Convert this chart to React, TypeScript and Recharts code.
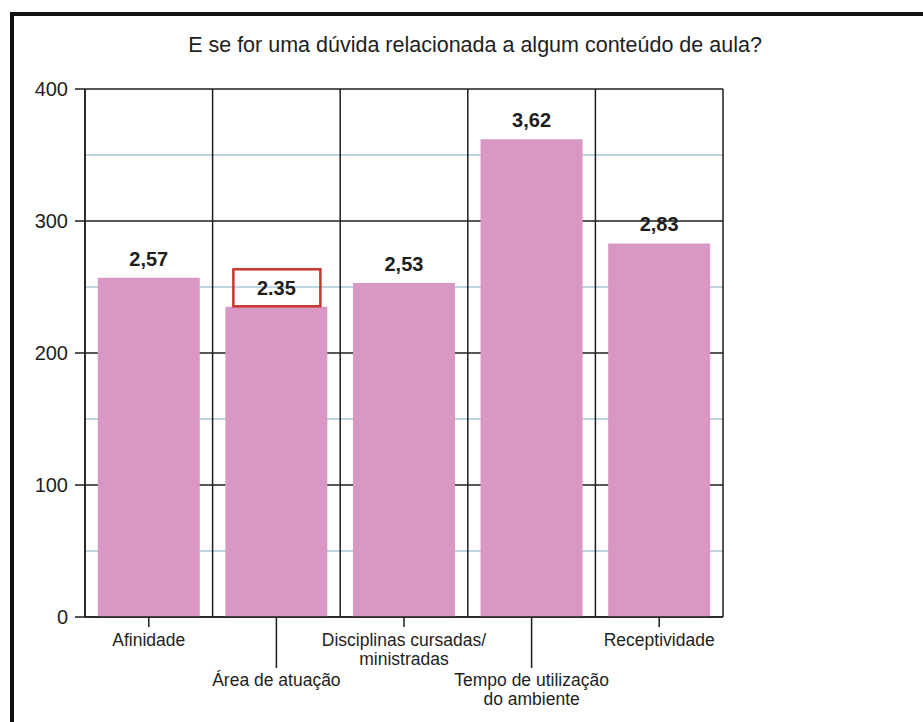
import { BarChart, Bar, XAxis, YAxis, CartesianGrid, LabelList } from 'recharts';

// one category per bar; "\n" marks where the axis label wraps
const categories = [
  'Afinidade',
  'Área de atuação',
  'Disciplinas cursadas/\nministradas',
  'Tempo de utilização\ndo ambiente',
  'Receptividade',
];
const scores = [2.57, 2.35, 2.53, 3.62, 2.83];
const scoreLabels = ['2,57', '2.35', '2,53', '3,62', '2,83'];
const highlighted = 'Área de atuação';

const yTicks = [0, 1, 2, 3, 4];
const yTickLabels = ['0', '100', '200', '300', '400'];
const minorLines = [0.5, 1.5, 2.5, 3.5];

const title = 'E se for uma dúvida relacionada a algum conteúdo de aula?';

const data = categories.map((name, i) => ({ name, score: scores[i], label: scoreLabels[i] }));

const FONT = '"Liberation Sans", Arial, sans-serif';
const INK = '#1e1e1e';

const CategoryTick = (props: any) => {
  const { x, y, payload, index } = props;
  const lower = index % 2 === 1;
  const lines = String(payload.value).split('\n');
  const tickLen = lower ? 51 : 10;
  const firstY = y + (lower ? 63 : 23);
  return (
    <g>
      <line x1={x} x2={x} y1={y} y2={y + tickLen} stroke={INK} strokeWidth={1.5} />
      {lines.map((ln, i) => (
        <text
          key={i}
          x={x}
          y={firstY + i * 19}
          textAnchor="middle"
          dominantBaseline="central"
          fontSize={17.5}
          fontFamily={FONT}
          fill={INK}
        >
          {ln}
        </text>
      ))}
    </g>
  );
};

const ValueLabel = (props: any) => {
  const { x, y, width, index } = props;
  const cx = x + width / 2;
  const cy = y - 19;
  const boxed = categories[index] === highlighted;
  return (
    <g>
      {boxed && (
        <rect x={cx - 43} y={cy - 18.5} width={87} height={37} fill="none" stroke="#c8372d" strokeWidth={2.5} />
      )}
      <text
        x={cx}
        y={cy}
        textAnchor="middle"
        dominantBaseline="central"
        fontSize={20}
        fontWeight="bold"
        fontFamily={FONT}
        fill={INK}
      >
        {scoreLabels[index]}
      </text>
    </g>
  );
};

// vertical rules sit on the category boundaries, not on the tick centres
const boundaryLines = ({ offset }: any) =>
  Array.from({ length: categories.length + 1 }, (_, i) => offset.left + (offset.width * i) / categories.length);

export default function App() {
  return (
    <div style={{ position: 'absolute', left: 0, top: 0, width: 923, height: 722, background: '#fff', fontFamily: FONT }}>
      <div
        style={{
          position: 'absolute',
          left: 10,
          top: 12,
          right: 0,
          bottom: 0,
          borderTop: '4px solid #111',
          borderLeft: '4px solid #111',
        }}
      />
      <div
        style={{
          position: 'absolute',
          left: 0,
          width: 950,
          top: 32,
          textAlign: 'center',
          fontSize: 21.5,
          color: INK,
          lineHeight: '26px',
        }}
      >
        {title}
      </div>
      <div style={{ position: 'absolute', left: 0, top: 0 }}>
        <BarChart
          width={923}
          height={722}
          data={data}
          margin={{ top: 89, right: 200, bottom: 5, left: 25 }}
          barCategoryGap="10%"
        >
          <CartesianGrid vertical={false} horizontalValues={minorLines} stroke="#a9c8da" strokeWidth={1.5} />
          <CartesianGrid
            stroke={INK}
            strokeWidth={1.5}
            verticalCoordinatesGenerator={boundaryLines}
          />
          <XAxis
            dataKey="name"
            height={100}
            interval={0}
            tickSize={0}
            tickMargin={0}
            tickLine={false}
            axisLine={{ stroke: INK, strokeWidth: 1.5 }}
            tick={<CategoryTick />}
          />
          <YAxis
            width={60}
            domain={[0, 4]}
            ticks={yTicks}
            tickFormatter={(v: number) => yTickLabels[yTicks.indexOf(v)]}
            tickSize={10}
            tickMargin={7}
            axisLine={{ stroke: INK, strokeWidth: 1.5 }}
            tickLine={{ stroke: INK, strokeWidth: 1.5 }}
            tick={{ fontSize: 20, fill: INK, fontFamily: FONT }}
          />
          <Bar dataKey="score" fill="#d998c4" isAnimationActive={false}>
            <LabelList dataKey="label" content={<ValueLabel />} />
          </Bar>
        </BarChart>
      </div>
    </div>
  );
}
